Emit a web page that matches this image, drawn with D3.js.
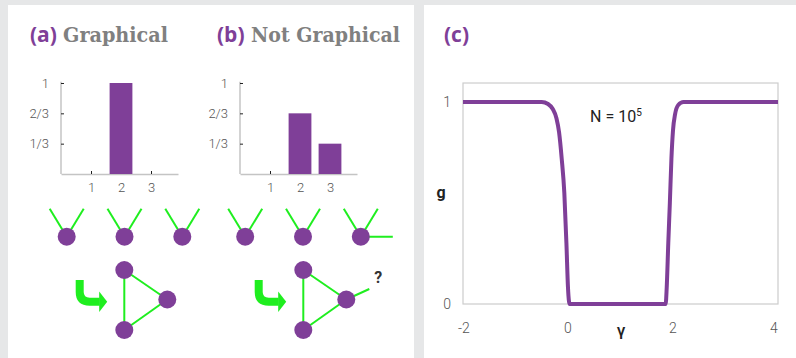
<!DOCTYPE html>
<html>
<head>
<meta charset="utf-8">
<script src="https://cdn.jsdelivr.net/npm/d3@7"></script>
<style>
  body { margin: 0; background: #e6e7e8; }
  svg { display: block; }
</style>
</head>
<body>
<div id="chart"></div>
<script>
// degree distributions shown in the two histograms
const degreeTicks = [1, 2, 3];
const probTicks = [1 / 3, 2 / 3, 1];
const probTickLabels = ["1/3", "2/3", "1"];
const probA = [0, 1, 0];          // (a) graphical: every node has degree 2
const probB = [0, 2 / 3, 1 / 3];  // (b) not graphical
const degreesA = [2, 2, 2];
const degreesB = [2, 2, 3];

// panel (c): g versus gamma for N = 10^5
const gammaValues = [-2, -0.5, -0.38, -0.29, -0.22, -0.17, -0.12, -0.07, -0.03, 0, 0.03, 1.86, 1.88, 1.91, 1.94, 1.97, 2.0, 2.04, 2.1, 2.2, 4];
const gValues     = [1, 1, 0.99, 0.965, 0.92, 0.85, 0.72, 0.55, 0.3, 0.08, 0, 0, 0.08, 0.3, 0.5, 0.72, 0.86, 0.94, 0.985, 1, 1];
const gammaTicks = [-2, 0, 2, 4];
const gTicks = [0, 1];

const purple = "#7f3f98";
const green = "#1fee1f";
const W = 796, H = 358;

const svg = d3.select("#chart").append("svg")
    .attr("width", W)
    .attr("height", H);

svg.append("rect").attr("width", W).attr("height", H).attr("fill", "#e6e7e8");
svg.append("rect").attr("x", 8).attr("y", 5).attr("width", 406).attr("height", H - 5).attr("fill", "#fff");
svg.append("rect").attr("x", 424).attr("y", 5).attr("width", W - 424).attr("height", H - 5).attr("fill", "#fff");

// panel titles: sans letter + serif word
function title(x, letter, word, wordX, wordLen) {
    svg.append("text")
        .attr("x", x).attr("y", 42)
        .attr("font-family", "'Open Sans', sans-serif")
        .attr("font-weight", 700)
        .attr("font-size", 21)
        .attr("fill", purple)
        .text(letter);
    if (word) {
        svg.append("text")
            .attr("x", wordX).attr("y", 42)
            .attr("font-family", "'DejaVu Serif', serif")
            .attr("font-weight", 700)
            .attr("font-size", 21)
            .attr("fill", "#808080")
            .attr("textLength", wordLen)
            .attr("lengthAdjust", "spacingAndGlyphs")
            .text(word);
    }
}
title(30, "(a)", "Graphical", 63, 105);
title(217, "(b)", "Not Graphical", 251, 149);
title(444, "(c)");

// ---------- histograms ----------
function histogram(x0, probs) {
    const g = svg.append("g").attr("transform", `translate(${x0},174)`);
    const x = d3.scaleLinear().domain([0, 3.9]).range([0, 117]);
    const y = d3.scaleLinear().domain([0, 1]).range([0, -91]);

    const xAxis = g.append("g")
        .call(d3.axisBottom(x).tickValues(degreeTicks).tickFormat(d3.format("d"))
            .tickSize(-3).tickSizeOuter(0).tickPadding(9));
    const yAxis = g.append("g")
        .call(d3.axisLeft(y).tickValues(probTicks).tickFormat((d, i) => probTickLabels[i])
            .tickSize(-3).tickSizeOuter(0).tickPadding(12));
    [xAxis, yAxis].forEach(a => {
        a.select(".domain").attr("stroke", "#c4c4c4").attr("stroke-width", 1.5);
        a.selectAll(".tick line").attr("stroke", "#222");
        a.selectAll(".tick text")
            .attr("font-family", "Roboto, sans-serif")
            .attr("font-weight", 300)
            .attr("font-size", 13)
            .attr("fill", "#555");
    });
    yAxis.select(".domain").attr("d", `M0,0V${y(1.015)}`);

    const bw = 0.76;
    g.selectAll("rect.bar")
        .data(probs.map((p, i) => ({ k: degreeTicks[i], p })).filter(d => d.p > 0))
        .join("rect")
        .attr("class", "bar")
        .attr("x", d => x(d.k - bw / 2))
        .attr("width", x(bw) - x(0))
        .attr("y", d => y(d.p))
        .attr("height", d => -y(d.p))
        .attr("fill", purple);
}
histogram(61, probA);
histogram(240, probB);

// ---------- stubs and triangles ----------
const nodeR = 9;
function stubs(ox, degrees) {
    const xs = d3.scalePoint().domain(d3.range(degrees.length)).range([ox + 66.7, ox + 182.3]);
    const cy = 236.7;
    const dirs = [[-17, -28], [17, -28], [32, 0]];
    degrees.forEach((d, i) => {
        const cx = xs(i);
        dirs.slice(0, d).forEach(([dx, dy]) => {
            svg.append("line")
                .attr("x1", cx).attr("y1", cy).attr("x2", cx + dx).attr("y2", cy + dy)
                .attr("stroke", green).attr("stroke-width", 2);
        });
        svg.append("circle").attr("cx", cx).attr("cy", cy).attr("r", nodeR).attr("fill", purple);
    });
}
stubs(0, degreesA);
stubs(178.5, degreesB);

function triangle(ox, open) {
    const pts = [[124.3, 270], [167.3, 299.5], [124.3, 330]].map(([x, y]) => [x + ox, y]);
    const edges = [[0, 1], [1, 2], [0, 2]];
    edges.forEach(([a, b]) => {
        svg.append("line")
            .attr("x1", pts[a][0]).attr("y1", pts[a][1]).attr("x2", pts[b][0]).attr("y2", pts[b][1])
            .attr("stroke", green).attr("stroke-width", 2);
    });
    if (open) {
        svg.append("line")
            .attr("x1", pts[1][0]).attr("y1", pts[1][1]).attr("x2", pts[1][0] + 23).attr("y2", pts[1][1] - 10.5)
            .attr("stroke", green).attr("stroke-width", 2);
        svg.append("text")
            .attr("x", pts[1][0] + 32).attr("y", 283)
            .attr("text-anchor", "middle")
            .attr("font-family", "Roboto, sans-serif")
            .attr("font-weight", 700)
            .attr("font-size", 16)
            .attr("fill", "#333")
            .text("?");
    }
    pts.forEach(([x, y]) => {
        svg.append("circle").attr("cx", x).attr("cy", y).attr("r", nodeR).attr("fill", purple);
    });

    // hooked arrow
    const ax = 79.7 + ox;
    svg.append("path")
        .attr("d", `M${ax},280V292Q${ax},301.7 ${ax + 10},301.7H${ax + 20}`)
        .attr("fill", "none").attr("stroke", green).attr("stroke-width", 8);
    svg.append("path")
        .attr("d", `M${ax + 19.5},291.5L${ax + 27.5},301.7L${ax + 19.5},312Z`)
        .attr("fill", green);
}
triangle(0, false);
triangle(179, true);

// ---------- panel (c) ----------
const xC = d3.scaleLinear().domain([-2, 4]).range([463, 778]);
const yC = d3.scaleLinear().domain([0, 1]).range([304, 102]);

svg.append("rect")
    .attr("x", xC(-2)).attr("y", yC(1.094))
    .attr("width", xC(4) - xC(-2)).attr("height", yC(0) - yC(1.094))
    .attr("fill", "none").attr("stroke", "#cccccc").attr("stroke-width", 1.2);

const tickStyle = sel => sel
    .attr("font-family", "Roboto, sans-serif")
    .attr("font-weight", 300)
    .attr("font-size", 14)
    .attr("fill", "#555");

svg.append("g").selectAll("text")
    .data(gammaTicks)
    .join("text")
    .attr("x", d => xC(d) + (d < 0 ? 1 : d > 2 ? -4 : 0))
    .attr("y", 333)
    .attr("text-anchor", "middle")
    .text(d => d)
    .call(tickStyle);

svg.append("g").selectAll("text")
    .data(gTicks)
    .join("text")
    .attr("x", 451)
    .attr("y", d => yC(d) + 5)
    .attr("text-anchor", "end")
    .text(d => d)
    .call(tickStyle);

svg.append("text")
    .attr("x", 441).attr("y", 198)
    .attr("text-anchor", "middle")
    .attr("font-family", "Roboto, sans-serif").attr("font-weight", 700).attr("font-size", 16)
    .attr("fill", "#222")
    .text("g");

svg.append("text")
    .attr("x", 621).attr("y", 336)
    .attr("text-anchor", "middle")
    .attr("font-family", "Roboto, sans-serif").attr("font-weight", 500).attr("font-size", 17)
    .attr("fill", "#222")
    .text("γ");

const nLabel = svg.append("text")
    .attr("x", 590).attr("y", 122)
    .attr("font-family", "Roboto, sans-serif").attr("font-weight", 400).attr("font-size", 16)
    .attr("fill", "#222");
nLabel.append("tspan").text("N = 10");
nLabel.append("tspan").attr("dy", -6).attr("font-size", 10).text("5");

const line = d3.line()
    .x((d, i) => xC(gammaValues[i]))
    .y(d => yC(d))
    .curve(d3.curveMonotoneX);

svg.append("path")
    .datum(gValues)
    .attr("d", line)
    .attr("fill", "none")
    .attr("stroke", purple)
    .attr("stroke-width", 4)
    .attr("stroke-linejoin", "round");
</script>
</body>
</html>
